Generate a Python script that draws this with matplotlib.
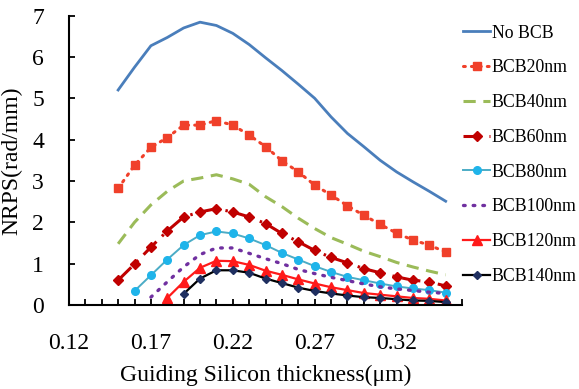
#!/usr/bin/env python3
"""NRPS vs guiding silicon thickness for several BCB thicknesses."""
import matplotlib

matplotlib.use("Agg")
import matplotlib.pyplot as plt
from matplotlib.ticker import MultipleLocator

plt.rcParams["font.family"] = ["Liberation Serif", "DejaVu Serif"]

# thickness grid (um), every 0.01 from 0.15 to 0.35
thickness = [round(0.15 + 0.01 * i, 2) for i in range(21)]

no_bcb = [5.20, 5.75, 6.27, 6.47, 6.70, 6.84, 6.76, 6.57, 6.30, 5.98, 5.67,
          5.34, 5.00, 4.55, 4.15, 3.83, 3.50, 3.22, 2.98, 2.75, 2.51]
bcb20 = [2.82, 3.38, 3.81, 4.05, 4.35, 4.35, 4.46, 4.35, 4.11, 3.83, 3.49,
         3.22, 2.90, 2.66, 2.40, 2.17, 1.95, 1.74, 1.57, 1.45, 1.28]
bcb40 = [1.48, 2.00, 2.42, 2.75, 3.00, 3.07, 3.15, 3.05, 2.92, 2.62, 2.38,
         2.10, 1.85, 1.63, 1.47, 1.30, 1.17, 1.03, 0.92, 0.82, 0.73]
bcb60 = [0.60, 0.99, 1.40, 1.79, 2.13, 2.25, 2.33, 2.25, 2.13, 1.97, 1.73,
         1.53, 1.32, 1.15, 1.02, 0.88, 0.78, 0.68, 0.60, 0.56, 0.46]
bcb80 = [0.34, 0.72, 1.10, 1.45, 1.69, 1.78, 1.73, 1.61, 1.45, 1.26,
         1.10, 0.94, 0.80, 0.68, 0.60, 0.52, 0.45, 0.40, 0.36, 0.30]
bcb100 = [0.19, 0.56, 0.92, 1.22, 1.38, 1.38, 1.25, 1.12, 1.00,
          0.86, 0.76, 0.67, 0.59, 0.51, 0.44, 0.39, 0.35, 0.31, 0.28]
bcb120 = [0.17, 0.56, 0.90, 1.07, 1.06, 0.97, 0.83, 0.73,
          0.62, 0.52, 0.43, 0.36, 0.29, 0.25, 0.21, 0.17, 0.15, 0.11]
bcb140 = [0.27, 0.64, 0.84, 0.84, 0.78, 0.64, 0.53,
          0.42, 0.34, 0.28, 0.23, 0.19, 0.17, 0.14, 0.11, 0.10, 0.07]

xtick_vals = [0.12, 0.17, 0.22, 0.27, 0.32]


def main() -> None:
    fig = plt.figure(figsize=(5.79, 3.89), dpi=100)
    ax = fig.add_axes([0.1192, 0.2159, 0.6788, 0.7441])

    n = len(thickness)
    ax.plot(thickness, no_bcb, color="#4A7EBB", lw=2.0, label="No BCB")
    ax.plot(thickness[n - len(bcb20):], bcb20, color="#F0402A", lw=2.2,
            ls=(0, (0.6, 2.0)), dash_capstyle="round", marker="s", ms=5.5,
            label="BCB20nm")
    ax.plot(thickness[n - len(bcb40):], bcb40, color="#9BBB59", lw=2.2,
            ls=(0, (4, 2.5)), label="BCB40nm")
    ax.plot(thickness[n - len(bcb60):], bcb60, color="#C00000", lw=2.2,
            ls=(0, (6, 2.5, 0.8, 2.5)), marker="D", ms=4.8, label="BCB60nm")
    ax.plot(thickness[n - len(bcb80):], bcb80, color="#4BACC6", lw=1.4,
            marker="o", ms=5.5, mfc="#1FB4EA", mec="#1FB4EA", label="BCB80nm")
    ax.plot(thickness[n - len(bcb100):], bcb100, color="#7030A0", lw=2.4,
            ls=(0, (0.5, 2.4)), dash_capstyle="round", label="BCB100nm")
    ax.plot(thickness[n - len(bcb120):], bcb120, color="#FF1A1A", lw=1.6,
            marker="^", ms=6.5, label="BCB120nm")
    ax.plot(thickness[n - len(bcb140):], bcb140, color="#000000", lw=1.6,
            marker="D", ms=4.2, mfc="#1F2F60", mec="#1F2F60", label="BCB140nm")

    ax.set_xlim(0.12, 0.36)
    ax.set_ylim(0, 7)
    ax.set_xticks(xtick_vals)
    ax.set_xticklabels([f"{v:.2f}" for v in xtick_vals])
    ax.xaxis.set_minor_locator(MultipleLocator(0.01))
    ax.yaxis.set_major_locator(MultipleLocator(1))

    for side in ("top", "right"):
        ax.spines[side].set_visible(False)
    for side in ("left", "bottom"):
        ax.spines[side].set_linewidth(1.5)

    ax.tick_params(axis="both", which="both", direction="in", length=4,
                   width=1.3, labelsize=17)
    ax.tick_params(axis="x", which="major", pad=20)
    ax.tick_params(axis="y", which="major", pad=18)

    ax.set_xlabel("Guiding Silicon thickness(\u03bcm)", fontsize=17, labelpad=8)
    ax.set_ylabel("NRPS(rad/mm)", fontsize=17, labelpad=7)

    fig.legend(loc="upper left", bbox_to_anchor=(0.800, 0.937), frameon=False,
               fontsize=12.8, handlelength=1.5, handletextpad=0.1,
               labelspacing=1.0, borderpad=0, borderaxespad=0)

    fig.savefig("out.png", dpi=100)


if __name__ == "__main__":
    main()
